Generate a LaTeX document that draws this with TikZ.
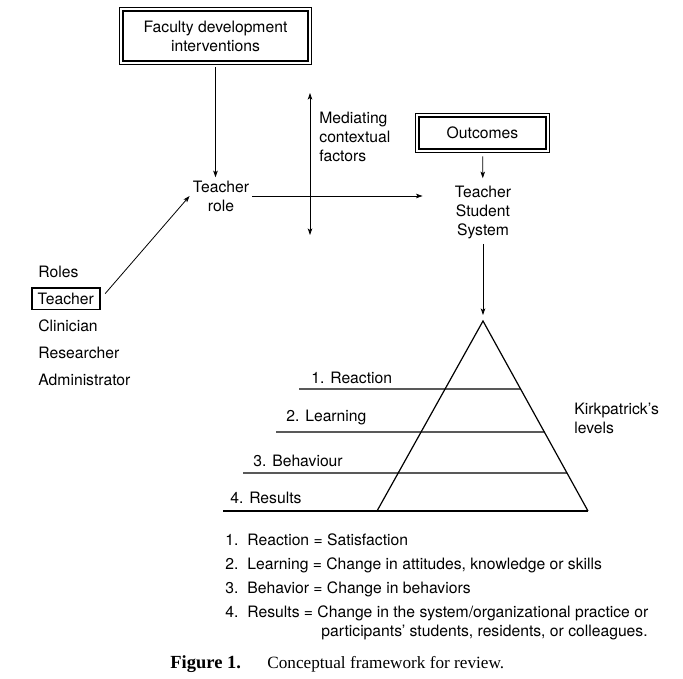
\documentclass[tikz,border=0pt]{standalone}
\usepackage{fontspec}
\setmainfont{TeX Gyre Heros}
\newfontfamily\captionfont{Liberation Serif}
\usetikzlibrary{arrows.meta,calc,positioning}

\begin{document}
\begin{tikzpicture}[x=1pt,y=-1pt]
    \tikzstyle{every path}=[line width=0.8pt]
    \tikzstyle{every node}=[font=\fontsize{15.7}{19}\selectfont,inner sep=3pt]
    \tikzset{>={Stealth[length=6.5pt,width=4.5pt,inset=1.5pt]}}
    \tikzstyle{framebox}=[draw,line width=2.5pt,inner sep=0pt,align=center]
    \tikzstyle{plain}=[inner sep=0pt,anchor=base west]
    \tikzstyle{level}=[line width=1.2pt]

    \useasboundingbox (0,0) rectangle (683,678);

    % boxes at the top
    \node[framebox,minimum width=185pt,minimum height=50pt] (fac) at (215.5,36) {Faculty development\\interventions};
    \draw[line width=0.6pt] ([shift={(-2pt,2pt)}]fac.north west) rectangle ([shift={(2pt,-2pt)}]fac.south east);
    \node[framebox,minimum width=127pt,minimum height=32pt] (outc) at (482.5,133) {Outcomes};
    \draw[line width=0.6pt] ([shift={(-2pt,2pt)}]outc.north west) rectangle ([shift={(2pt,-2pt)}]outc.south east);

    \node[align=center] (trole) at (221,196) {Teacher\\role};
    \node[align=center] (tss) at (483,212) {Teacher\\Student\\System};
    \node[align=left,inner sep=0pt,anchor=west] (med) at (319,137) {Mediating\\contextual\\factors};
    \coordinate (medtop) at (310,93);
    \coordinate (medbot) at (310,235);

    % roles
    \node[plain] (rolehdr) at (38,277.5) {Roles};
    \node[draw,line width=1.5pt,inner xsep=6pt,inner ysep=5pt,anchor=base west] (roleteach) at (31,304.5) {Teacher};
    \node[plain] (roleclin) at (38,331.5) {Clinician};
    \node[plain] (roleres) at (38,358.5) {Researcher};
    \node[plain] (roleadm) at (38,385.5) {Administrator};

    % pyramid
    \coordinate (apex) at (483,321);
    \coordinate (bl) at (377,511);
    \coordinate (br) at (588,511);
    \draw[level] (br) -- (apex) -- (bl);
    \draw[level] (223,511) -- (br);
    \draw[level] (299,389) -- ($(apex)!0.358!(br)$);
    \draw[level] (276,432) -- ($(apex)!0.584!(br)$);
    \draw[level] (243,473) -- ($(apex)!0.8!(br)$);
    \node[plain] (lvlone) at (311,383) {1. Reaction};
    \node[plain] (lvltwo) at (286,421) {2. Learning};
    \node[plain] (lvlthree) at (253,466) {3. Behaviour};
    \node[plain] (lvlfour) at (230,503) {4. Results};
    \node[align=left,inner sep=0pt,anchor=west] (kirk) at (574,418.5) {Kirkpatrick’s\\levels};

    % arrows
    \draw[->,shorten <=5pt] (fac) -- (fac |- trole.north);
    \draw[<->] (medtop) -- (medbot);
    \draw[->,shorten >=29pt] (trole.east) -- (trole.east -| tss.west);
    \draw[->,shorten <=6pt,shorten >=4pt] (outc) -- (tss);
    \draw[->,shorten <=2pt,shorten >=6pt] (tss) -- (apex);
    \draw[->,shorten <=7pt] (roleteach.east) -- (trole.west);

    % definitions of the levels
    \node[plain] (numone) at (225,545) {1.};
    \node[plain] (defone) at (247,545) {Reaction = Satisfaction};
    \node[plain] (numtwo) at (225,569) {2.};
    \node[plain] (deftwo) at (247,569) {Learning = Change in attitudes, knowledge or skills};
    \node[plain] (numthree) at (225,593) {3.};
    \node[plain] (defthree) at (247,593) {Behavior = Change in behaviors};
    \node[plain] (numfour) at (225,617) {4.};
    \node[plain] (deffour) at (247,617) {Results = Change in the system/organizational practice or};
    \node[plain] (deffive) at (321,636) {participants’ students, residents, or colleagues.};

    % caption
    \node[plain,font={\captionfont\fontsize{18.5}{20}\selectfont\bfseries}] (figlab) at (170,668) {Figure 1.};
    \node[plain,font={\captionfont\fontsize{17.2}{20}\selectfont}] (figtxt) at (267,668) {Conceptual framework for review.};
\end{tikzpicture}
\end{document}
